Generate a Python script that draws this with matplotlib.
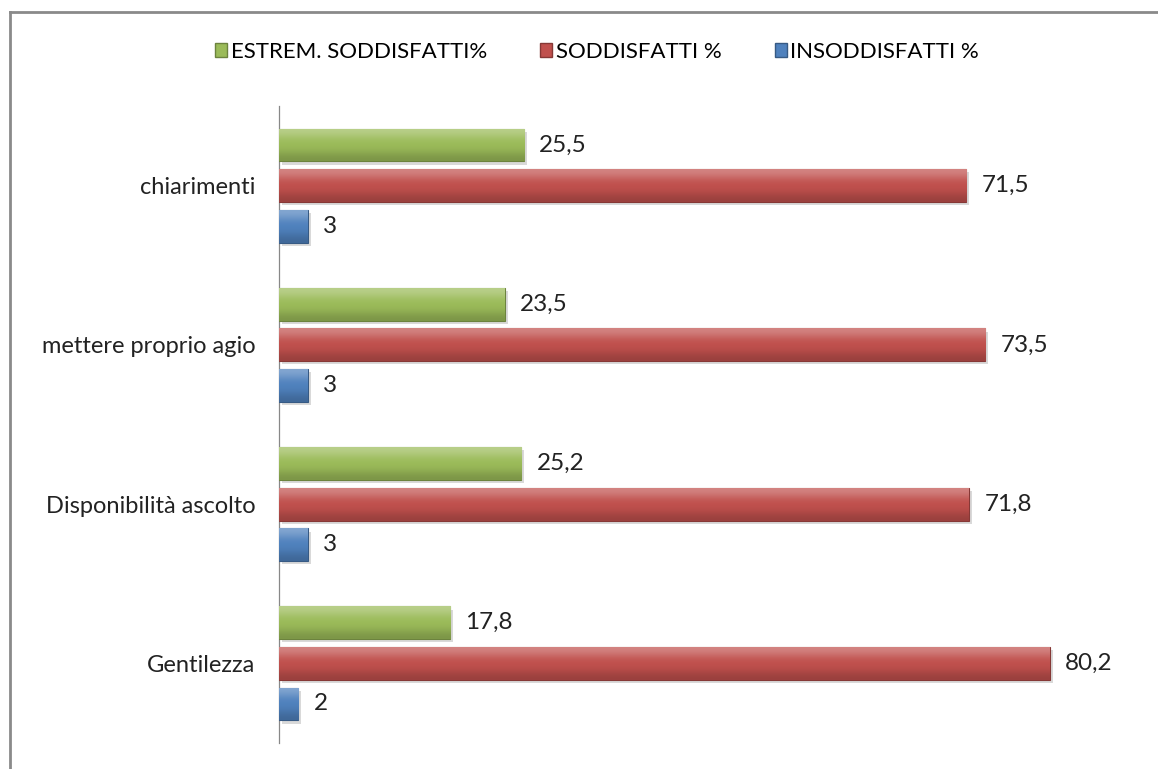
import matplotlib.pyplot as plt
import matplotlib.colors as mcolors
import numpy as np
from matplotlib.patches import Patch

plt.rcParams['font.family'] = ['Lato', 'DejaVu Sans']

categories = ["chiarimenti", "mettere proprio agio", "Disponibilità ascolto", "Gentilezza"]
series_names = ["ESTREM. SODDISFATTI%", "SODDISFATTI %", "INSODDISFATTI %"]
estrem = [25.5, 23.5, 25.2, 17.8]
soddisf = [71.5, 73.5, 71.8, 80.2]
insodd = [3, 3, 3, 2]
series = [estrem, soddisf, insodd]
colors = ["#9BBB59", "#C0504D", "#4F81BD"]


def fmt(v):
    return ("%g" % v).replace(".", ",")


fig = plt.figure(figsize=(11.58, 7.69), dpi=100)
ax = fig.add_axes([279 / 1158, 1 - 743 / 769, (1119 - 279) / 1158, (743 - 106) / 769])

y = np.arange(len(categories))
h = 0.206
step = 0.255

for i, (vals, col) in enumerate(zip(series, colors)):
    pos = y + (i - 1) * step
    base = np.array(mcolors.to_rgb(col))
    dark = base * 0.7
    bars = ax.barh(pos, vals, height=h, color=col, edgecolor=dark, linewidth=0.8, zorder=3)
    light = np.clip(base + (1 - base) * 0.3, 0, 1)
    grad = np.array([light, base, base, base * 0.8])[:, None, :]
    for b, v in zip(bars, vals):
        bx, by, bw, bh = b.get_x(), b.get_y(), b.get_width(), b.get_height()
        # soft shadow below-right
        ax.barh(by + bh / 2 + 0.02, bw, left=bx + 0.3, height=bh, color="#000000",
                alpha=0.15, zorder=2)
        im = ax.imshow(grad, extent=[bx, bx + bw, by + bh, by], aspect="auto",
                       interpolation="bicubic", zorder=3.5)
        im.set_clip_path(b)
        ax.annotate(fmt(v), (bx + bw, by + bh / 2), xytext=(11, 0),
                    textcoords="offset points", va="center", ha="left",
                    fontsize=17.5, color="#222222")

ax.set_xlim(0, (1119 - 279) / 9.61)
ax.set_ylim(3.5, -0.5)
ax.set_yticks(y)
ax.set_yticklabels(categories, fontsize=17, color="#222222")
ax.tick_params(axis="y", length=0, pad=17)
ax.xaxis.set_visible(False)
for s in ["top", "right", "bottom"]:
    ax.spines[s].set_visible(False)
ax.spines["left"].set_color("#888888")
ax.spines["left"].set_linewidth(0.9)

handles = [Patch(facecolor=c, edgecolor=np.array(mcolors.to_rgb(c)) * 0.7) for c in colors]
fig.legend(handles, series_names, loc="center", bbox_to_anchor=(597 / 1158, 1 - 52 / 769),
           ncol=3, frameon=False, fontsize=16, handlelength=0.55, handleheight=0.55,
           handletextpad=0.15, columnspacing=2.4)

# chart frame (top and left edges visible)
fig.add_artist(plt.Line2D([10 / 1158, 1], [1 - 12 / 769, 1 - 12 / 769],
                          transform=fig.transFigure, color="#8a8a8a", linewidth=2))
fig.add_artist(plt.Line2D([10 / 1158, 10 / 1158], [0, 1 - 12 / 769],
                          transform=fig.transFigure, color="#8a8a8a", linewidth=2))

fig.savefig("out.png", dpi=100)
